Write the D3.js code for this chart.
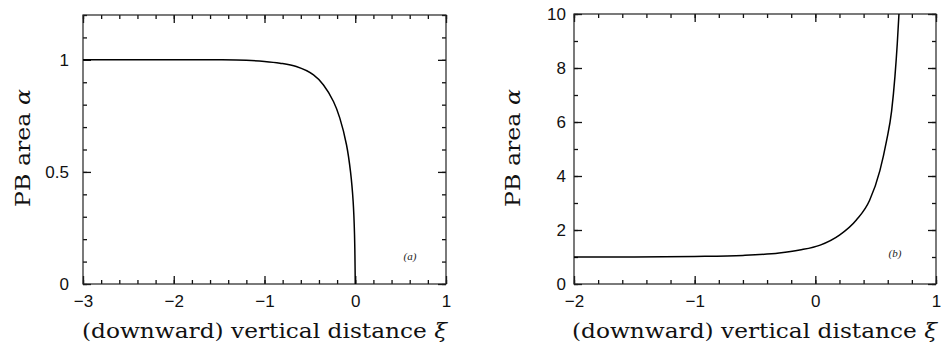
<!DOCTYPE html>
<html lang="en">
	<head>
		<meta charset="utf-8">
		<title>PB area</title>
		<script type="text/javascript" src="https://cdn.jsdelivr.net/npm/d3@7"></script>
		<style type="text/css">
			html, body{margin: 0; padding: 0; background: white; overflow: hidden;}
			.title{font-family: "DejaVu Serif", serif; font-size: 21px; fill: #111;}
			.panel_tag{font-family: "Liberation Serif", serif; font-style: italic; font-size: 11px; fill: #222;}
		</style>
	</head>
	<body>
		<div id="chart"></div>
		<script type="text/javascript">

			// panel (a)
			var xi_a = [-3, -2, -1.5, -1.2, -1.0, -0.83, -0.65, -0.46, -0.35, -0.24, -0.17, -0.096, -0.052, -0.023, -0.008, 0];
			var alpha_a = [1, 1, 1, 0.998, 0.993, 0.985, 0.97, 0.933, 0.888, 0.814, 0.74, 0.62, 0.50, 0.367, 0.22, 0];

			// panel (b)
			var xi_b = [-2, -1.5, -1, -0.6, -0.3, -0.13, 0.04, 0.2, 0.34, 0.45, 0.535, 0.59, 0.632, 0.66, 0.679, 0.693];
			var alpha_b = [1.0, 1.0, 1.02, 1.06, 1.15, 1.26, 1.44, 1.81, 2.37, 3.1, 4.2, 5.3, 6.4, 7.7, 8.9, 10];

			var xTicks_a = [-3, -2, -1, 0, 1];
			var yTicks_a = [0, 0.5, 1];
			var xTicks_b = [-2, -1, 0, 1];
			var yTicks_b = [0, 2, 4, 6, 8, 10];

			var xTitle = "(downward) vertical distance ";
			var yTitle = "PB area ";

			var w = 941, h = 348;

			var svg = d3.select("#chart")
						.append("svg")
						.attr("width", w)
						.attr("height", h);

			var fmt = d3.format("~g");

			// one set of inward ticks along one side
			function tickSide(g, axis, tx, ty){
				var a = g.append("g")
					.attr("transform", "translate(" + tx + "," + ty + ")")
					.call(axis);
				a.select(".domain").remove();
				a.selectAll(".tick line")
					.style("stroke", "#111")
					.style("stroke-width", "1.3px");
				a.selectAll("text")
					.attr("font-family", "'Liberation Sans', Arial, sans-serif")
					.attr("font-size", 17)
					.attr("fill", "#111");
				return a;
			}

			function drawPanel(p){
				var xScale = d3.scaleLinear().domain(p.xDom).range([p.left, p.right]);
				var yScale = d3.scaleLinear().domain(p.yDom).range([p.bottom, p.top]);

				var g = svg.append("g");

				var xMinor = d3.range(p.xDom[0], p.xDom[1] + 1e-9, p.xMinor);
				var yMinor = d3.range(p.yDom[0], p.yDom[1] + 1e-9, p.yMinor);

				// minor ticks, all four sides
				tickSide(g, d3.axisBottom(xScale).tickValues(xMinor).tickSize(-4).tickFormat(""), 0, p.bottom);
				tickSide(g, d3.axisTop(xScale).tickValues(xMinor).tickSize(-4).tickFormat(""), 0, p.top);
				tickSide(g, d3.axisLeft(yScale).tickValues(yMinor).tickSize(-4).tickFormat(""), p.left, 0);
				tickSide(g, d3.axisRight(yScale).tickValues(yMinor).tickSize(-4).tickFormat(""), p.right, 0);

				// major ticks with labels
				tickSide(g, d3.axisBottom(xScale).tickValues(p.xTicks).tickSize(-8).tickPadding(11).tickFormat(fmt), 0, p.bottom);
				tickSide(g, d3.axisTop(xScale).tickValues(p.xTicks).tickSize(-8).tickFormat(""), 0, p.top);
				tickSide(g, d3.axisLeft(yScale).tickValues(p.yTicks).tickSize(-8).tickPadding(p.yLabelGap).tickFormat(fmt), p.left, 0);
				tickSide(g, d3.axisRight(yScale).tickValues(p.yTicks).tickSize(-8).tickFormat(""), p.right, 0);

				// frame
				g.append("rect")
					.attr("x", p.left)
					.attr("y", p.top)
					.attr("width", p.right - p.left)
					.attr("height", p.bottom - p.top)
					.attr("fill", "none")
					.attr("stroke", "#222")
					.attr("stroke-width", 1.2);

				// curve
				var line = d3.line()
					.x(function(d){ return xScale(d[0]); })
					.y(function(d){ return yScale(d[1]); })
					.curve(p.curve);

				g.append("path")
					.datum(d3.zip(p.xs, p.ys))
					.attr("d", line)
					.attr("fill", "none")
					.attr("stroke", "#000")
					.attr("stroke-width", 1.5);

				// titles
				var xt = g.append("text")
					.attr("class", "title")
					.attr("x", p.xTitleX)
					.attr("y", 338)
					.attr("textLength", 365)
					.attr("lengthAdjust", "spacingAndGlyphs")
					.text(xTitle);
				xt.append("tspan").attr("font-style", "italic").text("\u03BE");

				var yt = g.append("text")
					.attr("class", "title")
					.attr("transform", "translate(" + p.yTitleX + ",148) rotate(-90)")
					.attr("text-anchor", "middle")
					.attr("textLength", 118)
					.attr("lengthAdjust", "spacingAndGlyphs")
					.text(yTitle);
				yt.append("tspan").attr("font-style", "italic").text("\u03B1");

				g.append("text")
					.attr("class", "panel_tag")
					.attr("x", p.tagX)
					.attr("y", p.tagY)
					.attr("text-anchor", "middle")
					.text(p.tag);
			}

			drawPanel({xDom: [-3, 1], yDom: [0, 1.2], left: 83, right: 446, top: 15, bottom: 284,
				xTicks: xTicks_a, yTicks: yTicks_a, xMinor: 0.2, yMinor: 0.1, yLabelGap: 14,
				xs: xi_a, ys: alpha_a, curve: d3.curveCatmullRom.alpha(0.5),
				xTitleX: 82, yTitleX: 30, tag: "(a)", tagX: 410, tagY: 260});

			drawPanel({xDom: [-2, 1], yDom: [0, 10], left: 574, right: 936, top: 14, bottom: 284,
				xTicks: xTicks_b, yTicks: yTicks_b, xMinor: 0.2, yMinor: 1, yLabelGap: 8,
				xs: xi_b, ys: alpha_b, curve: d3.curveMonotoneX,
				xTitleX: 572, yTitleX: 520, tag: "(b)", tagX: 895, tagY: 257});

		</script>
	</body>
</html>
